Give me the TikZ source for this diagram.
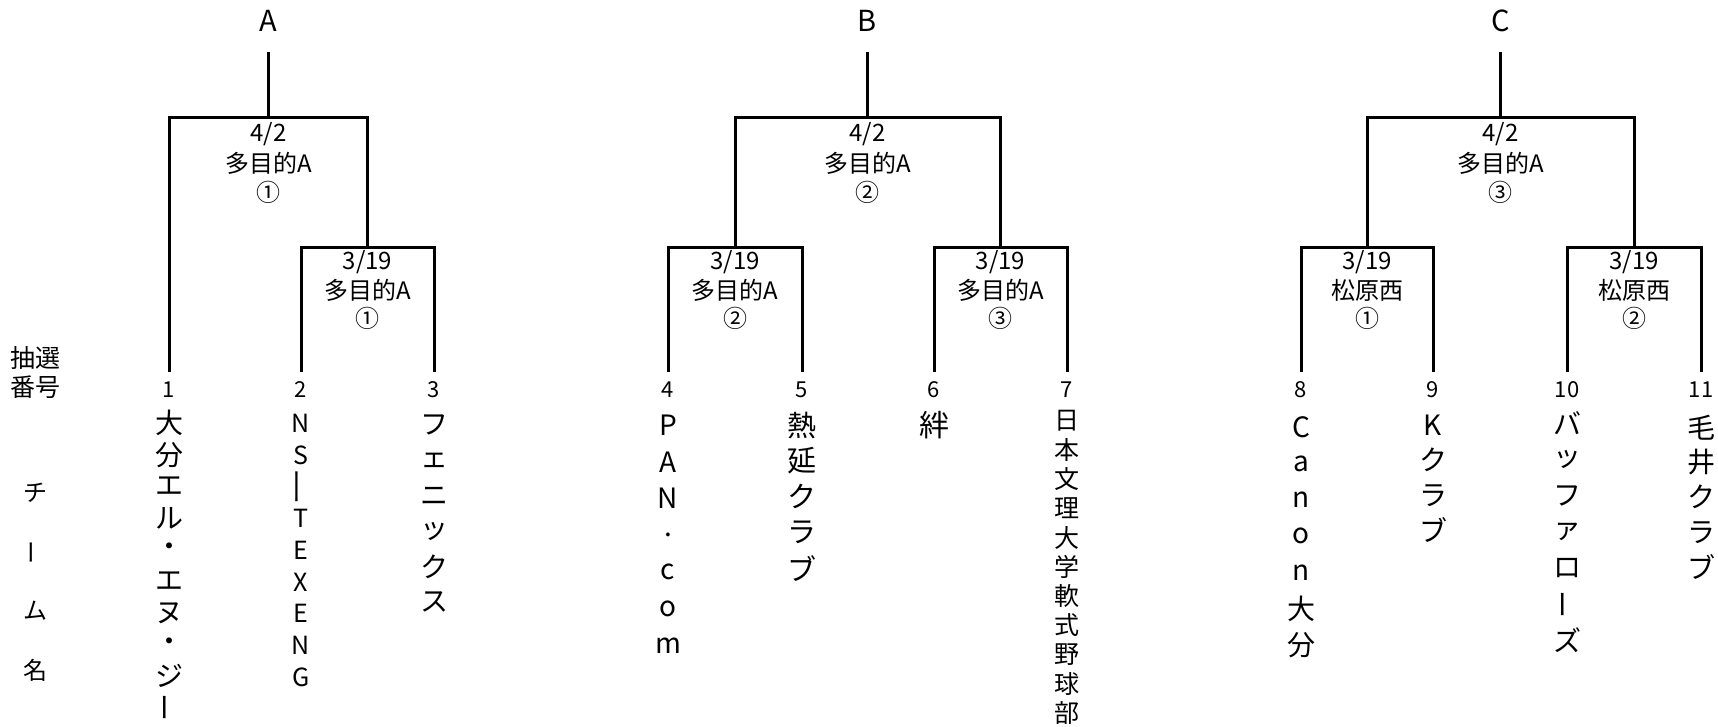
\documentclass[tikz,border=0pt]{standalone}
\usepackage{fontspec}
\setmainfont{Noto Sans CJK JP}
\usepackage{graphicx}
\newcommand\tate[2]{\vbox{\offinterlineskip\foreach \tch in {#2}{\hbox to 0pt{\hss\vbox to #1{\vss\hbox{\tch}\vss}\hss}}}}
\newcommand\tatebar{\rotatebox[origin=c]{90}{ー}}
\newcommand\tatelongbar{\rotatebox[origin=c]{90}{\scalebox{1.5}[1]{ー}}}
\tikzset{
  br/.style={line width=3pt},
  num/.style={font=\fontsize{22}{22}\selectfont, inner sep=0pt},
  team/.style={anchor=north, inner sep=0pt, font=\fontsize{28}{28}\selectfont},
  match/.style={anchor=north, inner sep=0pt, font=\fontsize{24}{24}\selectfont},
  pool/.style={font=\fontsize{29}{29}\selectfont, inner sep=0pt},
  side/.style={anchor=north, inner sep=0pt, font=\fontsize{25}{25}\selectfont},
}
\begin{document}
\begin{tikzpicture}[x=1pt,y=-1pt]
\useasboundingbox (0,0) rectangle (1718,726);
% pool labels
\node[pool] (pA) at (268.5,21) {A};
\node[pool] (pB) at (867.5,21) {B};
\node[pool] (pC) at (1500.5,21) {C};
% coordinates
\coordinate (tA) at (268.5,52);  \coordinate (mA) at (268.5,117);
\coordinate (mA2) at (367.5,247);
\coordinate (tB) at (867.5,52);  \coordinate (mB) at (867.5,117);
\coordinate (mB1) at (735,247);  \coordinate (mB2) at (1000.5,247);
\coordinate (tC) at (1500.5,52); \coordinate (mC) at (1500.5,117);
\coordinate (mC1) at (1367,247); \coordinate (mC2) at (1634,247);
\foreach \i/\x in {1/169,2/301,3/434,4/668,5/802,6/934,7/1067,8/1301,9/1433,10/1567,11/1701}{
  \coordinate (l\i) at (\x,372);
  \node[num] (n\i) at (\x,390) {\i};
}
% brackets
\draw[br] (tA) -- (mA);
\draw[br] (l1) |- (mA) -| (mA2);
\draw[br] (l2) |- (mA2) -| (l3);
\draw[br] (tB) -- (mB);
\draw[br] (mB1) |- (mB) -| (mB2);
\draw[br] (l4) |- (mB1) -| (l5);
\draw[br] (l6) |- (mB2) -| (l7);
\draw[br] (tC) -- (mC);
\draw[br] (mC1) |- (mC) -| (mC2);
\draw[br] (l8) |- (mC1) -| (l9);
\draw[br] (l10) |- (mC2) -| (l11);
% match labels
\node[match] (gA) at (268.5,119) {\tate{29.2pt}{4/2,多目的A,①}};
\node[match] (gA2) at (367.5,247.5) {\tate{28.2pt}{3/19,多目的A,①}};
\node[match] (gB) at (867.5,119) {\tate{29.2pt}{4/2,多目的A,②}};
\node[match] (gB1) at (735,247.5) {\tate{28.2pt}{3/19,多目的A,②}};
\node[match] (gB2) at (1000.5,247.5) {\tate{28.2pt}{3/19,多目的A,③}};
\node[match] (gC) at (1500.5,119) {\tate{29.2pt}{4/2,多目的A,③}};
\node[match] (gC1) at (1367,247.5) {\tate{28.2pt}{3/19,松原西,①}};
\node[match] (gC2) at (1634,247.5) {\tate{28.2pt}{3/19,松原西,②}};
% side labels
\node[side] (s1) at (35,343.5) {\tate{29pt}{抽選,番号}};
\node[side, font=\fontsize{24}{24}\selectfont] (s2) at (35,463.5) {\tate{59pt}{チ,\tatebar,ム,名}};
% teams
\node[team] (t1) at (169,407.2) {\tate{31.6pt}{大,分,エ,ル,・,エ,ヌ,・,ジ,\tatebar}};
\node[team, font=\fontsize{25}{25}\selectfont] (t2) at (301,407.1) {\tate{31.75pt}{N,S,\tatelongbar,T,E,X,E,N,G}};
\node[team] (t3) at (434,407.3) {\tate{35.4pt}{フ,ェ,ニ,ッ,ク,ス}};
\node[team] (t4) at (668,406.6) {\tate{36.7pt}{P,A,N,.,c,o,m}};
\node[team, font=\fontsize{29}{29}\selectfont] (t5) at (802,407.1) {\tate{35.75pt}{熱,延,ク,ラ,ブ}};
\node[team, font=\fontsize{30}{30}\selectfont] (t6) at (934,407) {\tate{36pt}{絆}};
\node[team, font=\fontsize{25}{25}\selectfont] (t7) at (1067,405.5) {\tate{29.3pt}{日,本,文,理,大,学,軟,式,野,球,部}};
\node[team] (t8) at (1301,408.8) {\tate{36.3pt}{C,a,n,o,n,大,分}};
\node[team] (t9) at (1433,407.5) {\tate{35pt}{K,ク,ラ,ブ}};
\node[team] (t10) at (1567,405) {\tate{36.2pt}{バ,ッ,フ,ァ,ロ,\tatebar,ズ}};
\node[team] (t11) at (1701,409.5) {\tate{35pt}{毛,井,ク,ラ,ブ}};
\end{tikzpicture}
\end{document}
